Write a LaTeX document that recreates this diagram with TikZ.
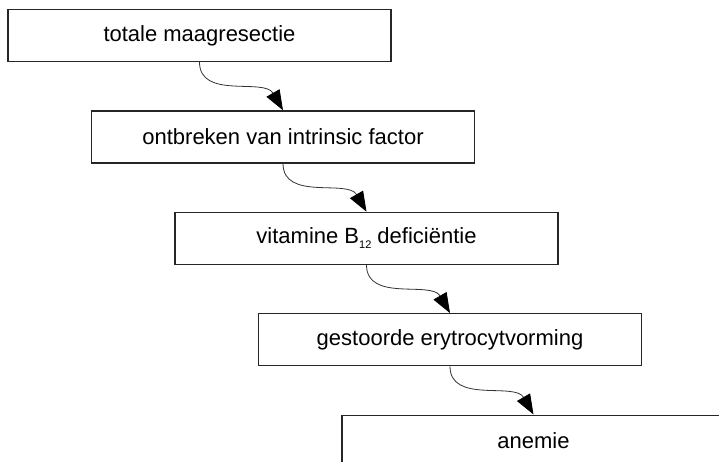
\documentclass[tikz,border=0pt]{standalone}
\usepackage{fontspec}
\setmainfont{Liberation Sans}
\usepackage{tikz}
\usetikzlibrary{positioning, arrows.meta}
\tikzstyle{process} = [rectangle, minimum width=383pt, minimum height=52pt, text centered, draw=black!85, line width=1.2pt, font=\fontsize{22}{26}\selectfont]
\tikzstyle{arrow} = [line width=0.8pt, draw=black!80, -{Triangle[length=20pt,width=15pt,color=black]}]
\newcommand{\subidx}[1]{\raisebox{-5pt}{\fontsize{11}{11}\selectfont #1}}

\begin{document}
\begin{tikzpicture}[node distance=101.4pt]
		\useasboundingbox (0,0) rectangle (719pt,-461pt);
		\clip (0,0) rectangle (719pt,-461pt);
		\node (maag) [process] at (199.5pt,-35.5pt) {totale maagresectie};
		\node (factor) [process, below of=maag, xshift=83.5pt] {ontbreken van intrinsic factor};
		\node (vitb) [process, below of=factor, xshift=83.5pt] {vitamine B\subidx{12} deficiëntie};
		\node (ery) [process, below of=vitb, xshift=83.5pt] {gestoorde erytrocytvorming};
		\node (anemie) [process, below of=ery, xshift=83.5pt] {anemie};
		\draw [arrow](maag.south) to[out=-90,in=120] (factor.north);
		\draw [arrow](factor.south) to[out=-90,in=120] (vitb.north);
		\draw [arrow](vitb.south) to[out=-90,in=120] (ery.north);
		\draw [arrow](ery.south) to[out=-90,in=120] (anemie.north);
	\end{tikzpicture}
\end{document}
